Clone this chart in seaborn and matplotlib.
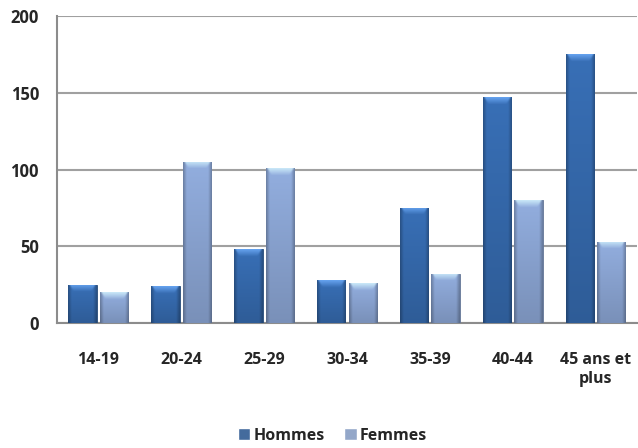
import matplotlib
matplotlib.use("Agg")
import matplotlib.pyplot as plt
import numpy as np
import pandas as pd
import seaborn as sns
from matplotlib.colors import to_rgb

# Data
categories = ["14-19", "20-24", "25-29", "30-34", "35-39", "40-44", "45 ans et\nplus"]
hommes = [25, 24, 48, 28, 75, 147, 175]
femmes = [20, 105, 101, 26, 32, 80, 53]
y_ticks = [0, 50, 100, 150, 200]

df = pd.DataFrame({
    "cat": categories * 2,
    "value": hommes + femmes,
    "sexe": ["Hommes"] * len(categories) + ["Femmes"] * len(categories),
})

colors = {"Hommes": "#3569AC", "Femmes": "#8AA4D2"}

sns.set_style("white")
plt.rcParams["font.family"] = ["Open Sans", "DejaVu Sans"]
plt.rcParams["font.weight"] = "bold"

fig = plt.figure(figsize=(6.38, 4.48), dpi=100)
ax = fig.add_axes([0.0893, 0.279, 0.909, 0.685])

sns.barplot(data=df, x="cat", y="value", hue="sexe", palette=colors,
            width=0.76, gap=0.1, ax=ax, legend=True, zorder=3)

ax.set_xlim(-0.5, len(categories) - 0.5)
ax.set_ylim(0, 200)


# Excel-like shading: vertical gradient with darker side edges, soft bevel at top
def shade(patch, base):
    r, g, b = to_rgb(base)
    x0, y0 = patch.get_x(), patch.get_y()
    w, h = patch.get_width(), patch.get_height()
    if h <= 0:
        return
    px = ax.transData.transform([(0, 0), (0, 1)])
    ppu = abs(px[1, 1] - px[0, 1])
    hpx = ppu * h
    ny, nx = max(int(hpx), 2), 40
    ypx = np.linspace(0, hpx, ny)[:, None]       # pixels from bottom
    xx = np.linspace(-1, 1, nx)[None, :]
    light = 0.88 + 0.18 * (ypx / hpx)             # darker bottom
    edge = 1 - 0.25 * np.clip((np.abs(xx) - 0.75) / 0.25, 0, 1)
    fac = light * edge
    img = np.stack([np.clip(c * fac, 0, 1) for c in (r, g, b)], axis=-1)
    # bevel: lighter trapezoid at the top, fading downward
    d = hpx - ypx                                 # pixels from top
    inner = 1 - np.abs(xx)
    bevel = np.clip(1 - d / 7.0, 0, 1) * np.clip(inner * 6 - d / 4.0, 0, 1)
    hl = np.array([min(1, c * 1.2 + 0.2) for c in (r, g, b)])
    a = (0.75 * bevel)[..., None]
    img = img * (1 - a) + hl * a
    im = ax.imshow(img, origin="lower", extent=(x0, x0 + w, y0, y0 + h),
                   aspect="auto", zorder=3.5, interpolation="bilinear")
    im.set_clip_path(patch)
    patch.set_edgecolor(tuple(c * 0.7 for c in (r, g, b)))
    patch.set_linewidth(0.6)


for cont, name in zip(ax.containers, ["Hommes", "Femmes"]):
    for p in cont.patches:
        shade(p, colors[name])

ax.set_yticks(y_ticks)
ax.set_yticklabels([str(v) for v in y_ticks], fontsize=12, fontweight="bold")
ax.set_xticks(range(len(categories)))
ax.set_xticklabels(categories, fontsize=11.5, fontweight="bold")
ax.tick_params(axis="x", pad=21, length=0)
ax.tick_params(axis="y", pad=13, length=0)
ax.set_xlabel("")
ax.set_ylabel("")

ax.yaxis.grid(True, color="#A0A0A0", linewidth=1.5, zorder=0)
ax.set_axisbelow(True)
for s in ["top", "right"]:
    ax.spines[s].set_visible(False)
for s in ["left", "bottom"]:
    ax.spines[s].set_color("#8C8C8C")
    ax.spines[s].set_linewidth(1.5)

handles, labels = ax.get_legend_handles_labels()
ax.legend(handles, labels, loc="lower center", bbox_to_anchor=(0.475, -0.44),
          ncol=2, frameon=False, handlelength=0.8, handleheight=0.8,
          handletextpad=0.2, columnspacing=1.2, prop={"weight": "bold", "size": 11.5})

fig.savefig("out.png", dpi=100)
